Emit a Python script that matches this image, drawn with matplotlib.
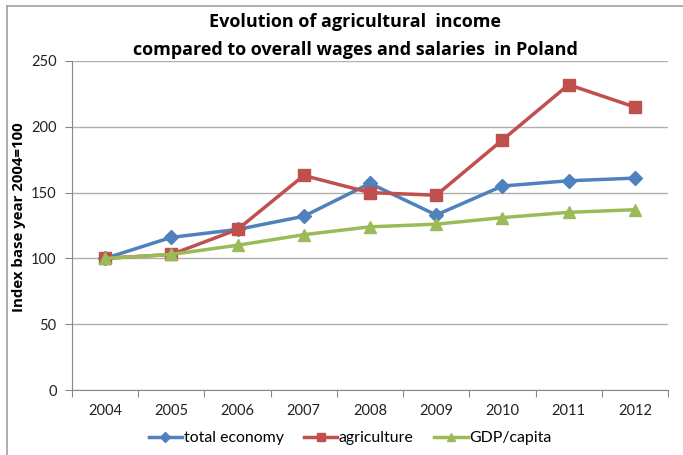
import matplotlib
matplotlib.use("Agg")
import matplotlib.pyplot as plt
from matplotlib.lines import Line2D
import numpy as np

plt.rcParams['font.family'] = ['Lato', 'DejaVu Sans']

years = ["2004", "2005", "2006", "2007", "2008", "2009", "2010", "2011", "2012"]
total_economy = [100, 116, 122, 132, 157, 133, 155, 159, 161]
agriculture = [100, 103, 122, 163, 150, 148, 190, 232, 215]
gdp_capita = [100, 103, 110, 118, 124, 126, 131, 135, 137]

fig = plt.figure(figsize=(6.83, 4.55), dpi=100)
ax = fig.add_axes([72 / 683, 65 / 455, 596 / 683, 329 / 455])

x = np.arange(len(years))
ax.plot(x, total_economy, color="#4F81BD", lw=2.5, marker="D", ms=7, label="total economy", zorder=3)
ax.plot(x, agriculture, color="#C0504D", lw=2.5, marker="s", ms=9, label="agriculture", zorder=4)
ax.plot(x, gdp_capita, color="#9BBB59", lw=2.5, marker="^", ms=9, label="GDP/capita", zorder=5)

ax.set_ylim(0, 250)
ax.set_yticks(range(0, 251, 50))
ax.set_xlim(-0.5, len(years) - 0.5)
ax.set_xticks(np.arange(-0.5, len(years), 1))
ax.set_xticklabels([])
ax.set_xticks(x, minor=True)
ax.set_xticklabels(years, minor=True)
ax.tick_params(axis="x", which="minor", length=0, pad=10, labelsize=10.5, colors="#222222")
ax.tick_params(axis="x", which="major", length=5, color="#888888")
ax.tick_params(axis="y", length=5, color="#888888", labelsize=10.5, labelcolor="#222222", pad=6)
ax.yaxis.grid(True, color="#B0B0B0", lw=1)
ax.set_axisbelow(True)
for s in ["top", "right"]:
    ax.spines[s].set_visible(False)
for s in ["left", "bottom"]:
    ax.spines[s].set_color("#888888")

bold_font = ['Open Sans', 'DejaVu Sans']
fig.text(19 / 683, 1 - 217 / 455, "Index base year 2004=100", rotation=90, ha="center", va="center",
         fontweight="bold", fontsize=10.8, family=bold_font)

fig.text(0.52, 1 - 22 / 455, "Evolution of agricultural  income", ha="center", va="center",
         fontsize=13, fontweight="bold", family=bold_font)
fig.text(0.52, 1 - 50 / 455, "compared to overall wages and salaries  in Poland", ha="center", va="center",
         fontsize=13, fontweight="bold", family=bold_font)

ax.legend(loc="center", bbox_to_anchor=((350 - 72) / 596, (390 - 438) / 329), ncol=3,
          frameon=False, fontsize=11.4, handlelength=2.1, handletextpad=0.1, columnspacing=1.3,
          markerscale=0.7)

fig.add_artist(Line2D([7 / 683, 7 / 683], [0, 1 - 6 / 455], color="#A0A0A0", lw=1.2))
fig.add_artist(Line2D([7 / 683, 1], [1 - 6 / 455, 1 - 6 / 455], color="#A0A0A0", lw=1.2))

fig.savefig("out.png", dpi=100)
